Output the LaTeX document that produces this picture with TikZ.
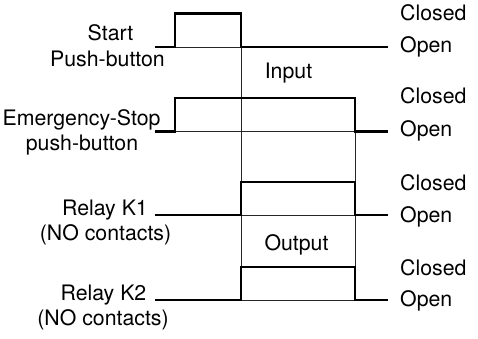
\documentclass[tikz,border=0pt]{standalone}
\usepackage{fontspec}
\setmainfont{TeX Gyre Heros}
\begin{document}
\begin{tikzpicture}[x=1pt,y=-1pt,
  lbl/.style={inner sep=0pt,anchor=base,font=\fontsize{21.3}{25.5}\selectfont},
  rlbl/.style={inner sep=0pt,anchor=base west,font=\fontsize{21.3}{25.5}\selectfont},
  sig/.style={line width=2.3pt,line join=miter},
  ref/.style={line width=0.8pt,black!85}]
\useasboundingbox (0,0) rectangle (478,338);
% reference (thin) lines
\draw[ref] (175,47) -- (241,47);
\draw[ref] (175,131.5) -- (355,131.5);
\draw[ref] (241,215) -- (355,215);
\draw[ref] (241,300) -- (355,300);
\draw[ref] (241,47) -- (241,300);
\draw[ref] (355,131.5) -- (355,300);
% signals
\draw[sig] (155,47) -- (175,47) -- (175,13.5) -- (241,13.5) -- (241,47) -- (388,47);
\draw[sig] (155,131.5) -- (175,131.5) -- (175,98) -- (355,98) -- (355,131.5) -- (388,131.5);
\draw[sig] (155,215) -- (241,215) -- (241,182) -- (355,182) -- (355,215) -- (388,215);
\draw[sig] (155,300) -- (241,300) -- (241,267) -- (355,267) -- (355,300) -- (388,300);
% left labels
\node[lbl] (s1) at (110.5,40) {Start};
\node[lbl] (s2) at (107.5,66) {Push-button};
\node[lbl] (e1) at (81.5,125) {Emergency-Stop};
\node[lbl] (e2) at (82,150.5) {push-button};
\node[lbl] (k1a) at (105,215) {Relay K1};
\node[lbl] (k1b) at (105.5,240.5) {(NO contacts)};
\node[lbl] (k2a) at (103.5,300) {Relay K2};
\node[lbl] (k2b) at (103,325.5) {(NO contacts)};
% middle labels
\node[lbl] (in) at (288.5,78.5) {Input};
\node[lbl] (out) at (296.5,250) {Output};
% right labels
\node[rlbl] (c1) at (400,20) {Closed};
\node[rlbl] (o1) at (400,52) {Open};
\node[rlbl] (c2) at (400,103.5) {Closed};
\node[rlbl] (o2) at (400,136.5) {Open};
\node[rlbl] (c3) at (400,190) {Closed};
\node[rlbl] (o3) at (400,222) {Open};
\node[rlbl] (c4) at (400,275) {Closed};
\node[rlbl] (o4) at (400,306.5) {Open};
\end{tikzpicture}
\end{document}
